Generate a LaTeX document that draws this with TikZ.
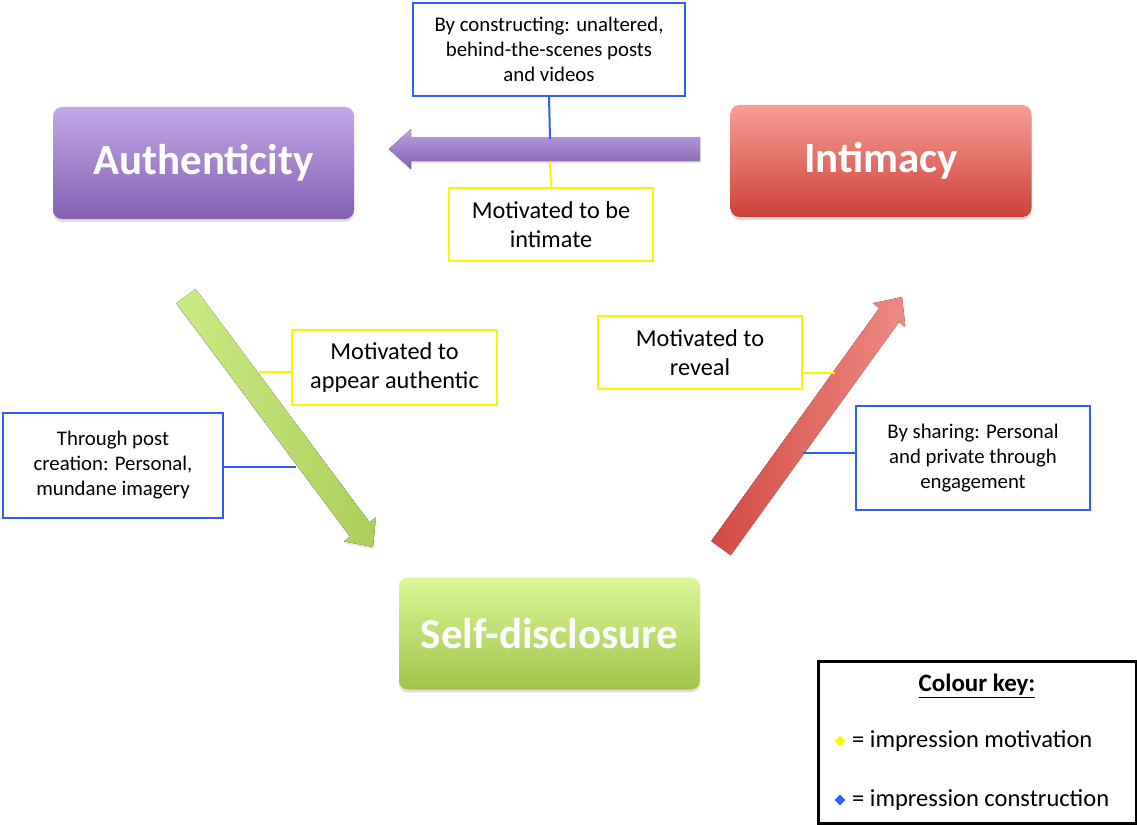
\documentclass[tikz,border=0pt]{standalone}
\usepackage{fontspec}
\setmainfont{Carlito}
\usetikzlibrary{calc,shapes.geometric,shadows}

\definecolor{keyblue}{RGB}{45,95,250}
\definecolor{keyyellow}{RGB}{250,245,0}
\definecolor{purpTop}{RGB}{196,168,232}
\definecolor{purpBot}{RGB}{132,95,176}
\definecolor{redTop}{RGB}{247,158,150}
\definecolor{redBot}{RGB}{206,64,56}
\definecolor{grnTop}{RGB}{218,248,152}
\definecolor{grnBot}{RGB}{160,196,74}

% thick block arrow from #1 (tail) to #2 (tip), filled with style #3
\newcommand{\fatarrow}[3]{%
  \coordinate (hb) at ($(#2)!22pt!(#1)$);
  \fill[#3] ($(#1)!12pt!90:(#2)$) -- ($(hb)!12pt!90:(#2)$) -- ($(hb)!20pt!90:(#2)$)
    -- (#2) -- ($(hb)!20pt!-90:(#2)$) -- ($(hb)!12pt!-90:(#2)$)
    -- ($(#1)!12pt!-90:(#2)$) -- cycle;
}

\tikzset{
  concept/.style={rounded corners=9pt, minimum width=301pt, minimum height=112pt,
    inner sep=0pt, text=white, font=\fontsize{43}{50}\selectfont\bfseries,
    drop shadow={shadow xshift=0pt, shadow yshift=-3pt, opacity=0.25}},
  constructbox/.style={draw=keyblue, line width=2.2pt, fill=white, align=center,
    inner sep=0pt, font=\fontsize{20.8}{25}\selectfont},
  motivebox/.style={draw=keyyellow, line width=2.2pt, fill=white, align=center,
    inner sep=0pt, font=\fontsize{24.3}{29.5}\selectfont},
  bline/.style={draw=keyblue, line width=2pt},
  yline/.style={draw=keyyellow, line width=2pt},
  keymark/.style={diamond, inner sep=0pt, minimum size=11pt},
  keytext/.style={anchor=west, inner sep=0pt, font=\fontsize{24.5}{28}\selectfont},
}

\begin{document}
\begin{tikzpicture}[x=1pt,y=-1pt]
\useasboundingbox (0,0) rectangle (1137,824);

% the three concepts
\node[concept, top color=purpTop, bottom color=purpBot] (auth) at (203.5,163) {Authenticity};
\node[concept, top color=redTop, bottom color=redBot] (intim) at (881,161) {Intimacy};
\node[concept, top color=grnTop, bottom color=grnBot] (self) at (549.5,633.5) {Self-disclosure};

% block arrows between the concepts
\coordinate (pT) at (700,149);
\coordinate (pP) at (389,149);
\fatarrow{pT}{pP}{top color=purpTop!90!purpBot, bottom color=purpBot, drop shadow={shadow xshift=0pt, shadow yshift=-2pt, opacity=0.2}}

\coordinate (gT) at (186,296);
\coordinate (gP) at (373,547);
\fatarrow{gT}{gP}{left color=grnTop!75!grnBot, right color=grnBot!80!grnTop, drop shadow={shadow xshift=0pt, shadow yshift=-2pt, opacity=0.2}}

\coordinate (rT) at (721,548);
\coordinate (rP) at (902,297);
\fatarrow{rT}{rP}{left color=redBot!95!white, right color=redTop!80!redBot, drop shadow={shadow xshift=0pt, shadow yshift=-2pt, opacity=0.2}}

% annotation boxes
\node[constructbox, minimum width=272pt, minimum height=93pt] (c1) at (549,49.5)
  {By constructing: unaltered,\\behind-the-scenes posts\\and videos};
\node[motivebox, minimum width=204pt, minimum height=73pt] (m1) at (551,224.5)
  {Motivated to be\\intimate};
\node[motivebox, minimum width=205pt, minimum height=75pt] (m2) at (394.5,367.5)
  {Motivated to\\appear authentic};
\node[constructbox, minimum width=220pt, minimum height=105pt] (c2) at (113,465.5)
  {Through post\\creation: Personal,\\mundane imagery};
\node[motivebox, minimum width=204pt, minimum height=73pt] (m3) at (700,352.5)
  {Motivated to\\reveal};
\node[constructbox, minimum width=234pt, minimum height=104pt] (c3) at (973,458)
  {By sharing: Personal\\and private through\\engagement};

% leader lines to the arrows
\coordinate (a1) at (550,139);
\coordinate (a2) at (550,161);
\coordinate (a3) at (259,372);
\coordinate (a4) at (296,467);
\coordinate (a5) at (835,373);
\coordinate (a6) at (803,453);
\draw[bline] (c1.south) -- (a1);
\draw[yline] (m1.north) -- (a2);
\draw[yline] (a3 -| m2.west) -- (a3);
\draw[bline] (a4 -| c2.east) -- (a4);
\draw[yline] (a5 -| m3.east) -- (a5);
\draw[bline] (a6 -| c3.west) -- (a6);

% colour key
\node[draw=black, line width=3pt, fill=white, minimum width=318pt, minimum height=162pt,
  inner sep=0pt] (key) at (977,742) {};
\node[font=\fontsize{25}{28}\selectfont\bfseries] (keyt) at (977,686) {\underline{Colour key:}};
\node[keymark, fill=keyyellow] (dy) at (840,741) {};
\node[keytext] (ly) at (852,741) {= impression motivation};
\node[keymark, fill=keyblue] (db) at (840,800) {};
\node[keytext] (lb) at (852,800) {= impression construction};
\end{tikzpicture}
\end{document}
